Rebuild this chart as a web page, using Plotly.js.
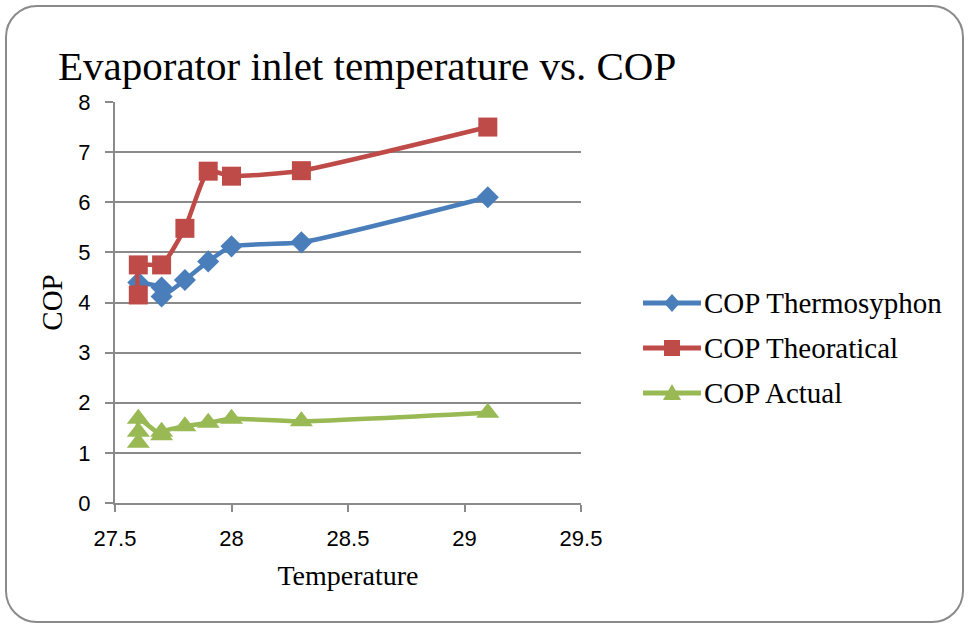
<!DOCTYPE html>
<html>
<head>
<meta charset="utf-8">
<script src="https://cdn.plot.ly/plotly-3.0.1.min.js"></script>
<style>
  html, body { margin: 0; padding: 0; background: #ffffff; }
  #wrap { position: relative; width: 968px; height: 627px; overflow: hidden; }
  #chart { position: absolute; left: 0; top: 0; width: 968px; height: 627px; }
  #frame {
    position: absolute; left: 5px; top: 5px; width: 955px; height: 614px;
    border: 2px solid #8a8a8a; border-radius: 32px; pointer-events: none;
  }
</style>
</head>
<body>
<div id="wrap">
  <div id="chart"></div>
  <div id="frame"></div>
</div>
<script>
// Evaporator inlet temperature (deg C) and the three COP series
const tempThermo = [27.6, 27.7, 27.7, 27.8, 27.9, 28.0, 28.3, 29.1];
const copThermo  = [4.40, 4.30, 4.12, 4.45, 4.82, 5.12, 5.20, 6.10];

const tempTheo = [27.6, 27.6, 27.7, 27.8, 27.9, 28.0, 28.3, 29.1];
const copTheo  = [4.15, 4.75, 4.75, 5.48, 6.62, 6.52, 6.63, 7.50];

const tempActual = [27.6, 27.6, 27.6, 27.7, 27.7, 27.8, 27.9, 28.0, 28.3, 29.1];
const copActual  = [1.20, 1.42, 1.68, 1.35, 1.42, 1.53, 1.60, 1.68, 1.63, 1.80];

const seriesNames = ['COP\u2009Thermosyphon', 'COP Theoratical', 'COP Actual'];
const seriesColors = ['#4a7ebb', '#be4b48', '#98b954'];
const xTicks = [27.5, 28, 28.5, 29, 29.5];
const yTicks = [0, 1, 2, 3, 4, 5, 6, 7, 8];

const serif = 'Liberation Serif, Times New Roman, serif';
const sans = 'Liberation Sans, Arial, sans-serif';

// plot-area geometry in pixels, used to place the side legend
const W = 968, H = 627;
const M = { l: 115, r: 387, t: 102, b: 124 };
const plotW = W - M.l - M.r, plotH = H - M.t - M.b;
const px = v => (v - M.l) / plotW;
const py = v => (H - M.b - v) / plotH;

const traces = [
  {
    x: tempThermo, y: copThermo, name: seriesNames[0], mode: 'lines+markers',
    line: { color: seriesColors[0], width: 4.5, shape: 'spline', smoothing: 0.5 },
    marker: { symbol: 'diamond', size: 17, color: seriesColors[0] }
  },
  {
    x: tempTheo, y: copTheo, name: seriesNames[1], mode: 'lines+markers',
    line: { color: seriesColors[1], width: 4.5, shape: 'spline', smoothing: 0.5 },
    marker: { symbol: 'square', size: 19, color: seriesColors[1] }
  },
  {
    x: tempActual, y: copActual, name: seriesNames[2], mode: 'lines+markers',
    line: { color: seriesColors[2], width: 4.5, shape: 'spline', smoothing: 0.5 },
    marker: { symbol: 'triangle-up', size: 20, color: seriesColors[2] }
  }
];

// Side legend: a long line sample with the series marker, then the name
const legendRows = [303, 348, 393];
const markerPaths = [
  'M0,9 L8,0 L0,-9 L-8,0 Z',
  'M-8,-8 L8,-8 L8,8 L-8,8 Z',
  'M0,9 L9,-7 L-9,-7 Z'
];
const shapes = [];
const annotations = [];
legendRows.forEach((rowY, i) => {
  shapes.push({
    type: 'line', xref: 'paper', yref: 'paper',
    x0: px(643), x1: px(701), y0: py(rowY), y1: py(rowY),
    line: { color: seriesColors[i], width: 5 }
  });
  shapes.push({
    type: 'path', xref: 'paper', yref: 'paper',
    xsizemode: 'pixel', ysizemode: 'pixel',
    xanchor: px(672), yanchor: py(rowY),
    path: markerPaths[i],
    fillcolor: seriesColors[i], line: { width: 0 }
  });
  annotations.push({
    xref: 'paper', yref: 'paper', x: px(702), y: py(rowY),
    xanchor: 'left', yanchor: 'middle', showarrow: false,
    text: seriesNames[i],
    font: { family: serif, size: 29, color: '#000000' }
  });
});

const layout = {
  width: W, height: H,
  margin: M,
  paper_bgcolor: 'rgba(0,0,0,0)',
  plot_bgcolor: '#ffffff',
  showlegend: false,
  title: {
    text: 'Evaporator inlet temperature vs. COP',
    font: { family: serif, size: 41, color: '#000000' },
    x: 58 / W, xanchor: 'left', y: 1 - 66 / H, yanchor: 'middle'
  },
  xaxis: {
    range: [27.5, 29.5], tickvals: xTicks, ticktext: xTicks.map(String),
    showgrid: false, zeroline: false,
    showline: true, linecolor: '#8a8a8a', linewidth: 2,
    ticks: 'outside', ticklen: 7, tickcolor: '#8a8a8a', tickwidth: 2,
    ticklabelstandoff: 8,
    tickfont: { family: sans, size: 22, color: '#000000' },
    title: { text: 'Temperature', font: { family: serif, size: 28, color: '#000000' }, standoff: 15 }
  },
  yaxis: {
    range: [0, 8], tickvals: yTicks, ticktext: yTicks.map(String),
    showgrid: true, gridcolor: '#8a8a8a', gridwidth: 2, zeroline: false,
    showline: true, linecolor: '#8a8a8a', linewidth: 2,
    ticks: 'outside', ticklen: 8, tickcolor: '#8a8a8a', tickwidth: 2,
    ticklabelstandoff: 10,
    tickfont: { family: sans, size: 22, color: '#000000' },
    title: { text: 'COP', font: { family: serif, size: 29, color: '#000000' }, standoff: 7 }
  },
  shapes: shapes,
  annotations: annotations
};

Plotly.newPlot('chart', traces, layout, { displayModeBar: false, staticPlot: true });
</script>
</body>
</html>
